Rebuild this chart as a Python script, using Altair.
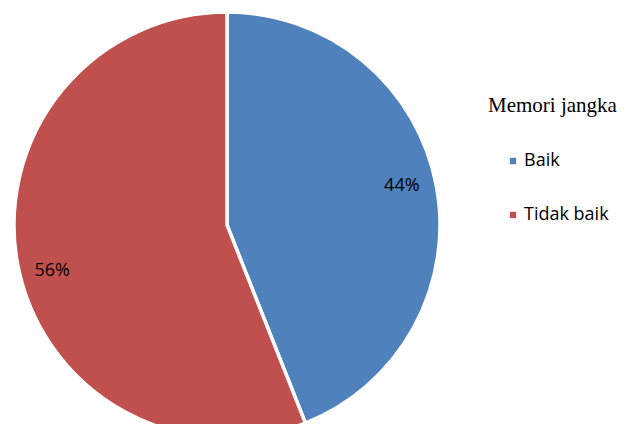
import altair as alt
import pandas as pd

categories = ["Baik", "Tidak baik"]
values = [44, 56]
labels = ["44%", "56%"]
colors = ["#4F81BD", "#C0504D"]
legend_title = "Memori jangka"

df = pd.DataFrame({"kategori": categories, "nilai": values, "label": labels,
                   "urut": list(range(len(categories)))})

CX, CY = 219, 217  # pie centre in plot coordinates

base = alt.Chart(df).encode(
    theta=alt.Theta("nilai:Q", stack=True),
    order=alt.Order("urut:Q"),
    x=alt.value(CX),
    y=alt.value(CY),
)

pie = base.mark_arc(radius=213, stroke="white", strokeWidth=3.5).encode(
    color=alt.Color(
        "kategori:N",
        scale=alt.Scale(domain=categories, range=colors),
        sort=categories,
        legend=alt.Legend(
            title=None,
            orient="none",
            legendX=496,
            legendY=144,
            symbolType="square",
            symbolSize=40,
            symbolStrokeWidth=0,
            labelFont="Open Sans",
            labelFontSize=18,
            labelColor="#000000",
            labelOffset=2,
            rowPadding=36,
            padding=0,
        ),
    )
)

text_style = dict(radius=178, font="Open Sans", fontSize=18, color="#000000")
text_a = base.mark_text(dy=-6, **text_style).encode(
    text="label:N", opacity=alt.condition(alt.datum.kategori == categories[0], alt.value(1), alt.value(0))
)
text_b = base.mark_text(dy=13, **text_style).encode(
    text="label:N", opacity=alt.condition(alt.datum.kategori == categories[1], alt.value(1), alt.value(0))
)

title_df = pd.DataFrame({"t": [legend_title]})
title = alt.Chart(title_df).mark_text(
    font="Liberation Serif", fontSize=21, color="#000000", align="left", baseline="alphabetic"
).encode(x=alt.value(480), y=alt.value(104), text="t:N")

chart = alt.layer(pie, text_a, text_b, title).properties(
    width=617, height=416, autosize=alt.AutoSizeParams(type="none"), padding=0,
    background="white",
).configure_view(stroke=None)

chart.save("out.html", embed_options={"renderer": "svg", "actions": False})
